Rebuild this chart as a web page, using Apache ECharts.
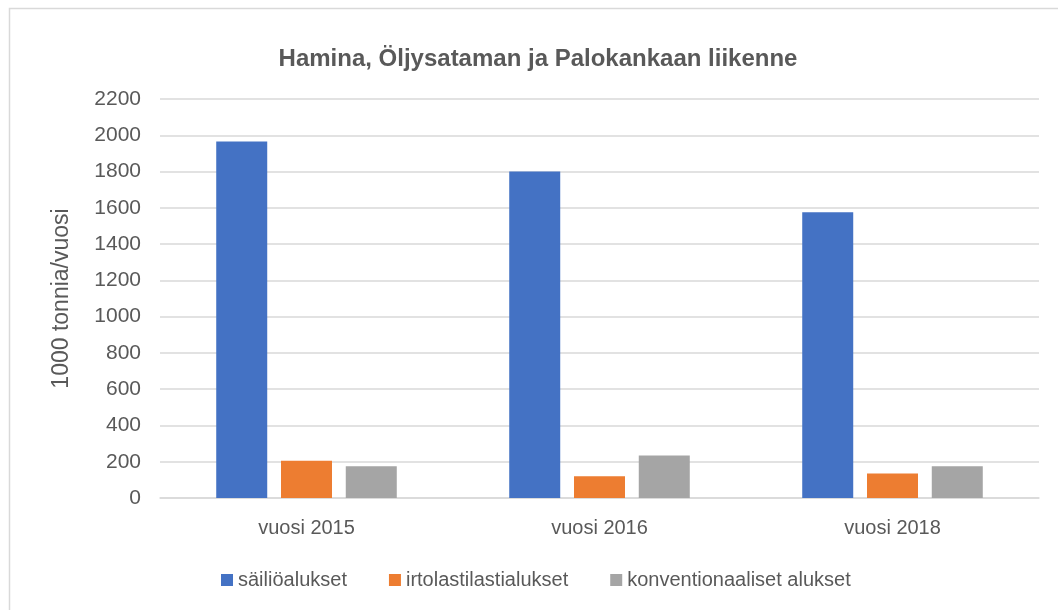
<!DOCTYPE html>
<html>
<head>
<meta charset="utf-8">
<script src="https://cdn.jsdelivr.net/npm/echarts@6/dist/echarts.min.js"></script>
<style>
  html, body { margin: 0; padding: 0; background: #fff; }
  #chart { width: 1058px; height: 610px; }
</style>
</head>
<body>
<div id="chart"></div>
<script>
// luvut luettu kuvasta (1000 tonnia/vuosi)
var categories = ['vuosi 2015', 'vuosi 2016', 'vuosi 2018'];
var sailioalukset = [1965, 1800, 1575];
var irtolastialukset = [205, 120, 135];
var konventionaaliset = [175, 235, 175];
var seriesNames = ['säiliöalukset', 'irtolastilastialukset', 'konventionaaliset alukset'];

var textColor = '#595959';
var font = 'Liberation Sans';

var myChart = echarts.init(document.getElementById('chart'));
var option = {
  backgroundColor: '#fff',
  animation: false,
  color: ['#4472C4', '#ED7D31', '#A5A5A5'],
  graphic: [{
    type: 'rect',
    left: 7,
    top: 6,
    shape: { width: 1200, height: 800 },
    style: { fill: 'none', stroke: '#d9d9d9', lineWidth: 1.5 },
    silent: true
  }],
  title: {
    text: 'Hamina, Öljysataman ja Palokankaan liikenne',
    left: 533,
    textAlign: 'center',
    top: 42,
    textStyle: { fontFamily: font, fontSize: 24, fontWeight: 'bold', color: textColor }
  },
  legend: {
    data: seriesNames,
    left: 216,
    top: 565,
    itemWidth: 12,
    itemHeight: 12,
    itemGap: 42,
    icon: 'rect',
    textStyle: { fontFamily: font, fontSize: 20, color: textColor }
  },
  grid: {
    left: 160,
    right: 19,
    top: 99,
    bottom: 112
  },
  xAxis: {
    type: 'category',
    data: categories,
    axisLine: { lineStyle: { color: '#d9d9d9', width: 1.5 } },
    axisTick: { show: false },
    axisLabel: { fontFamily: font, fontSize: 20, color: textColor, margin: 20 }
  },
  yAxis: {
    type: 'value',
    min: 0,
    max: 2200,
    interval: 200,
    name: '1000 tonnia/vuosi',
    nameLocation: 'middle',
    nameGap: 87,
    nameTextStyle: { fontFamily: font, fontSize: 23, color: textColor },
    axisLine: { show: false },
    axisTick: { show: false },
    axisLabel: {
      fontFamily: font, fontSize: 21, color: textColor, margin: 19,
      formatter: function (v) { return String(v); }
    },
    splitLine: { lineStyle: { color: '#d9d9d9', width: 1.5 } }
  },
  series: [
    { name: seriesNames[0], type: 'bar', data: sailioalukset, barWidth: 51, barGap: '27%' },
    { name: seriesNames[1], type: 'bar', data: irtolastialukset, barWidth: 51, barGap: '27%' },
    { name: seriesNames[2], type: 'bar', data: konventionaaliset, barWidth: 51, barGap: '27%' }
  ]
};
myChart.setOption(option);
</script>
</body>
</html>
